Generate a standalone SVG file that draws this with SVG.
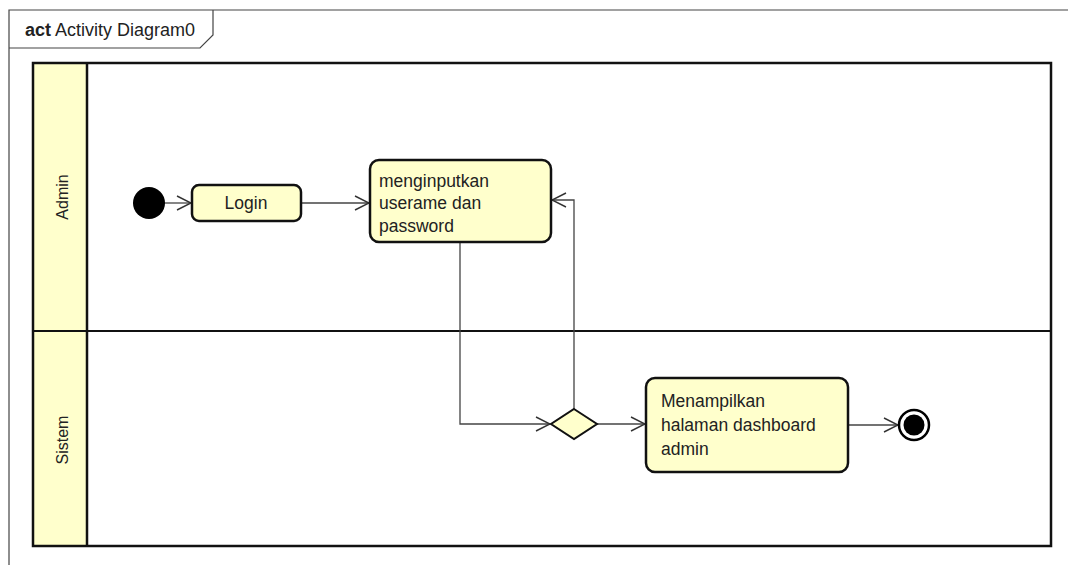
<svg xmlns="http://www.w3.org/2000/svg" width="1068" height="565" viewBox="0 0 1068 565">
<defs>
<style>
text{font-family:"Liberation Sans",Arial,sans-serif;fill:#222;}
.lbl{font-size:17.5px;}
.lanelbl{font-size:16px;}
.act{fill:#ffffcc;stroke:#111;stroke-width:2.5;}
.flow{fill:none;stroke:#444;stroke-width:1.3;marker-end:url(#arr);}
.lane{fill:none;stroke:#111;stroke-width:2.5;}
</style>
<marker id="arr" viewBox="0 0 16 16" refX="15" refY="8" markerWidth="16" markerHeight="16" markerUnits="userSpaceOnUse" orient="auto">
<path d="M1,1 L15,8 L1,15" fill="none" stroke="#333" stroke-width="1.4"/>
</marker>
</defs>
<rect x="0" y="0" width="1068" height="565" fill="#fff"/>
<g id="frame">
<path d="M9,570 L9,10 L1075,10" fill="none" stroke="#444" stroke-width="1.2"/>
<path d="M9,48 L200,48 L213,35 L213,10" fill="none" stroke="#444" stroke-width="1.2"/>
<text x="25" y="36" font-size="17.5" textLength="170" lengthAdjust="spacingAndGlyphs"><tspan font-weight="bold">act</tspan> Activity Diagram0</text>
</g>
<g id="swimlanes">
<rect x="33" y="63" width="54" height="483" fill="#ffffcc"/>
<rect x="33" y="63" width="1018" height="483" class="lane"/>
<line x1="87" y1="63" x2="87" y2="546" stroke="#111" stroke-width="2.5"/>
<line x1="33" y1="331" x2="1051" y2="331" stroke="#111" stroke-width="2"/>
<text class="lanelbl" transform="translate(68,197) rotate(-90)" text-anchor="middle">Admin</text>
<text class="lanelbl" transform="translate(68,440) rotate(-90)" text-anchor="middle">Sistem</text>
</g>
<g id="connectors">
<path class="flow" d="M165,203 L191,203"/>
<path class="flow" d="M301,203 L369,203"/>
<path class="flow" d="M460,242 L460,424 L550,424"/>
<path class="flow" d="M574,409 L574,200 L552,200"/>
<path class="flow" d="M597,424 L645,424"/>
<path class="flow" d="M848,425 L898,425"/>
</g>
<g id="start">
<circle cx="149" cy="203" r="16" fill="#000"/>
</g>
<g id="login">
<rect x="192" y="185" width="109" height="36" rx="7" class="act"/>
<text class="lbl" x="246" y="209" text-anchor="middle">Login</text>
</g>
<g id="input">
<rect x="370" y="160" width="181" height="82" rx="9" class="act"/>
<text class="lbl" x="379" y="187">menginputkan</text>
<text class="lbl" x="379" y="209">userame dan</text>
<text class="lbl" x="379" y="232">password</text>
</g>
<g id="decision">
<path d="M574,409 L597,424 L574,439 L551,424 Z" fill="#ffffcc" stroke="#111" stroke-width="2"/>
</g>
<g id="dashboard">
<rect x="646" y="378" width="202" height="94" rx="9" class="act"/>
<text class="lbl" x="661" y="407">Menampilkan</text>
<text class="lbl" x="661" y="431">halaman dashboard</text>
<text class="lbl" x="661" y="455">admin</text>
</g>
<g id="end">
<circle cx="914" cy="425" r="15" fill="#fff" stroke="#000" stroke-width="2.5"/>
<circle cx="914" cy="425" r="10.5" fill="#000"/>
</g>
</svg>
